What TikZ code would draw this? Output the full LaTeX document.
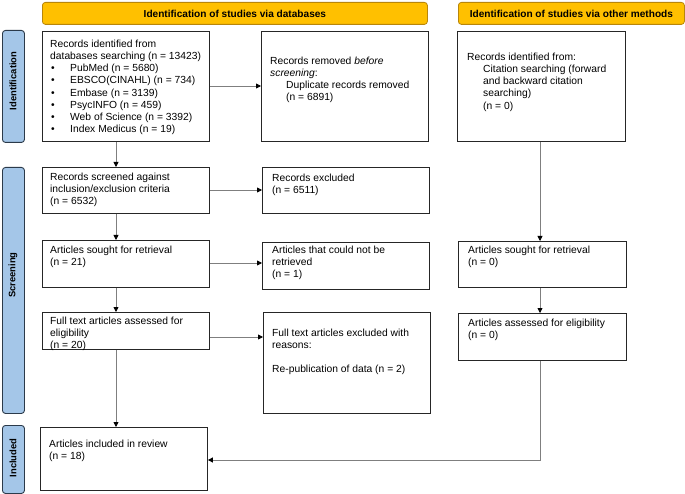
\documentclass[tikz,border=0pt]{standalone}
\usepackage{fontspec}
\setmainfont{Liberation Sans}
\usetikzlibrary{arrows.meta}
\definecolor{hdr}{HTML}{FFC000}
\definecolor{hdrline}{HTML}{B8860B}
\definecolor{side}{HTML}{A4C6E8}
\definecolor{sideline}{HTML}{2B3A4A}
\definecolor{conn}{HTML}{7F7F7F}
\tikzset{
  box/.style={draw=black!85, line width=0.9pt, anchor=north west, inner sep=0pt, fill=white},
  hdrbox/.style={draw=hdrline, fill=hdr, rounded corners=3pt, line width=0.8pt, anchor=north west, inner sep=0pt},
  sidebox/.style={draw=sideline, fill=side, rounded corners=3pt, line width=0.9pt, anchor=north west, inner sep=0pt},
  sidetxt/.style={rotate=90, font=\fontsize{9.4}{11}\selectfont\bfseries},
  hdrtxt/.style={font=\fontsize{10.1}{11}\selectfont\bfseries},
  txt/.style={anchor=north west, inner sep=0pt, align=left, font=\fontsize{10.3}{12.1}\selectfont},
  conn/.style={draw=conn, line width=0.8pt, -{Triangle[length=5pt,width=5pt,black]}},
}
\newcommand{\bul}{\makebox[20pt][l]{\hspace{1pt}•}}
\begin{document}
\begin{tikzpicture}[x=1pt,y=-1pt]
\useasboundingbox (0,0) rectangle (685,494);
% headers
\node[hdrbox, minimum width=385pt, minimum height=22pt] (h1) at (42,2) {};
\node[hdrtxt] (h1t) at (h1.center) {Identification of studies via databases};
\node[hdrbox, minimum width=226pt, minimum height=22pt] (h2) at (458,2) {};
\node[hdrtxt] (h2t) at (h2.center) {Identification of studies via other methods};
% side labels
\node[sidebox, minimum width=22pt, minimum height=112pt] (s1) at (2,30) {};
\node[sidetxt] (s1t) at (13,81) {Identification};
\node[sidebox, minimum width=22pt, minimum height=246pt] (s2) at (2,167) {};
\node[sidetxt] (s2t) at (13,275) {Screening};
\node[sidebox, minimum width=22pt, minimum height=68pt] (s3) at (2,425) {};
\node[sidetxt] (s3t) at (13,458) {Included};
% boxes
\node[box, minimum width=167pt, minimum height=110pt] (A) at (42,31) {};
\node[txt] (tA) at (50,40) {Records identified from\\databases searching (n = 13423)\\
\bul PubMed (n = 5680)\\\bul EBSCO(CINAHL) (n = 734)\\\bul Embase (n = 3139)\\
\bul PsycINFO (n = 459)\\\bul Web of Science (n = 3392)\\\bul Index Medicus (n = 19)};
\node[box, minimum width=167pt, minimum height=110pt] (B) at (261,31) {};
\node[txt] (tB) at (270,57) {Records removed \textit{before}\\\textit{screening}:\\
\hspace*{16pt}Duplicate records removed\\\hspace*{16pt}(n = 6891)};
\node[box, minimum width=168pt, minimum height=110pt] (C) at (457,31) {};
\node[txt] (tC) at (467,53) {Records identified from:\\\hspace*{16pt}Citation searching (forward\\
\hspace*{16pt}and backward citation\\\hspace*{16pt}searching)\\\hspace*{16pt}(n = 0)};
\node[box, minimum width=167pt, minimum height=46pt] (D) at (42,167) {};
\node[txt] (tD) at (50,173) {Records screened against\\inclusion/exclusion criteria\\(n = 6532)};
\node[box, minimum width=167pt, minimum height=46pt] (E) at (262,167) {};
\node[txt] (tE) at (272,174) {Records excluded\\(n = 6511)};
\node[box, minimum width=167pt, minimum height=47pt] (F) at (42,240) {};
\node[txt] (tF) at (50,246) {Articles sought for retrieval\\(n = 21)};
\node[box, minimum width=167pt, minimum height=47pt] (G) at (262,242) {};
\node[txt] (tG) at (272,246) {Articles that could not be\\retrieved\\(n = 1)};
\node[box, minimum width=168pt, minimum height=46pt] (H) at (458,241) {};
\node[txt] (tH) at (468,246) {Articles sought for retrieval\\(n = 0)};
\node[box, minimum width=167pt, minimum height=37pt] (I) at (42,312) {};
\node[txt] (tI) at (50,317) {Full text articles assessed for\\eligibility\\(n = 20)};
\node[box, minimum width=167pt, minimum height=101pt] (J) at (263,312) {};
\node[txt] (tJ) at (272,329) {Full text articles excluded with\\reasons:\\[12.1pt]Re-publication of data (n = 2)};
\node[box, minimum width=168pt, minimum height=47pt] (K) at (458,313) {};
\node[txt] (tK) at (468,319) {Articles assessed for eligibility\\(n = 0)};
\node[box, minimum width=167pt, minimum height=63pt] (L) at (40,427) {};
\node[txt] (tL) at (49,440) {Articles included in review\\(n = 18)};
% connectors
\draw[conn] (A.south -| 116,0) -- (D.north -| 116,0);
\draw[conn] (A.east |- 0,86) -- (B.west |- 0,86);
\draw[conn] (D.east |- 0,190) -- (E.west |- 0,190);
\draw[conn] (D.south -| 116,0) -- (F.north -| 116,0);
\draw[conn] (F.east |- 0,263) -- (G.west |- 0,263);
\draw[conn] (F.south -| 116,0) -- (I.north -| 116,0);
\draw[conn] (I.east |- 0,337) -- (J.west |- 0,337);
\draw[conn] (I.south -| 116,0) -- (L.north -| 116,0);
\draw[conn] (C.south -| 540,0) -- (H.north -| 540,0);
\draw[conn] (H.south -| 540,0) -- (K.north -| 540,0);
\draw[conn] (K.south -| 540,0) -- (540,460) -- (L.east |- 0,460);
\end{tikzpicture}
\end{document}
